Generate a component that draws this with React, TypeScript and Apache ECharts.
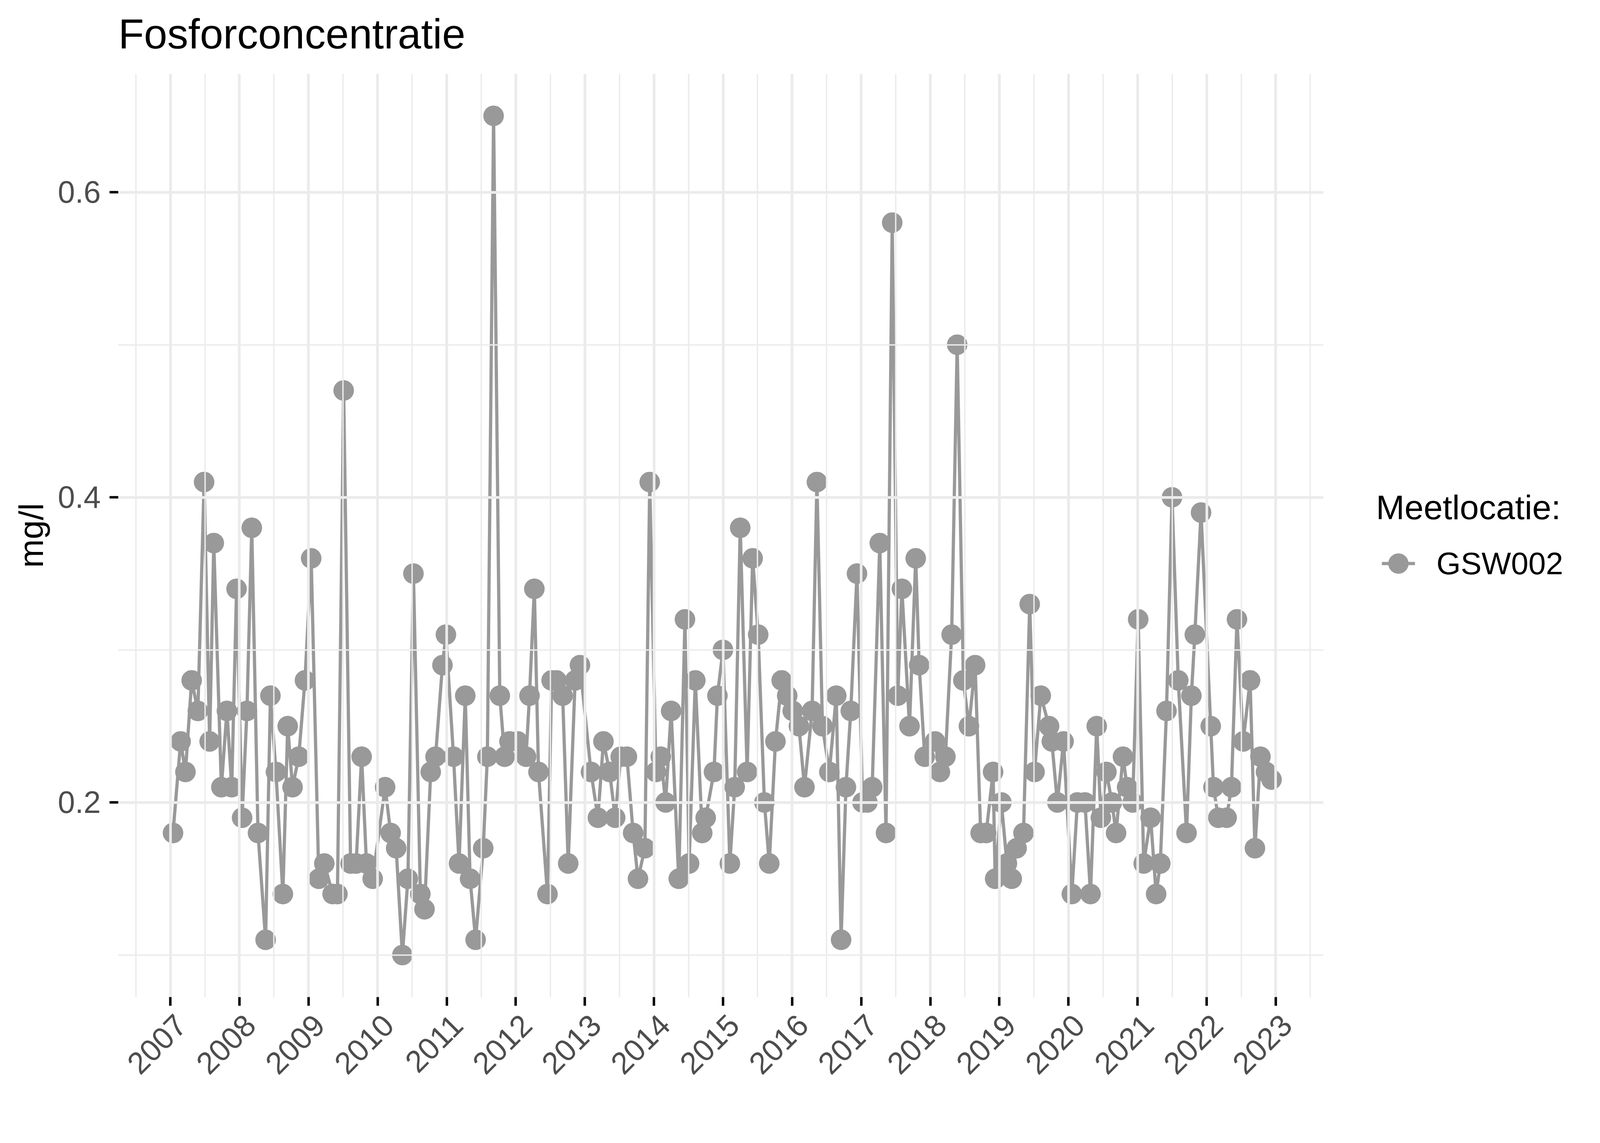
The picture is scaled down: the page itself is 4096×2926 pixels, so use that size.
import React, { useEffect, useRef } from "react";
import * as echarts from "echarts";

// ---- texts ----
const chartTitle = "Fosforconcentratie";
const yAxisTitle = "mg/l";
const legendTitle = "Meetlocatie:";
const seriesName = "GSW002";

// ---- data (sample moment as decimal year, value in mg/l) ----
const sampleYears = [
  2007.04, 2007.15, 2007.22, 2007.31, 2007.40, 2007.49, 2007.57, 2007.63, 2007.74, 2007.82, 2007.89, 2007.96,
  2008.04, 2008.11, 2008.18, 2008.27, 2008.38, 2008.45, 2008.53, 2008.63, 2008.70, 2008.77, 2008.86, 2008.95,
  2009.04, 2009.15, 2009.23, 2009.35, 2009.42, 2009.51, 2009.61, 2009.69, 2009.77, 2009.84, 2009.93,
  2010.11, 2010.19, 2010.27, 2010.36, 2010.44, 2010.52, 2010.62, 2010.68, 2010.77, 2010.84, 2010.94, 2010.99,
  2011.10, 2011.18, 2011.27, 2011.34, 2011.42, 2011.53, 2011.59, 2011.68, 2011.77, 2011.84, 2011.91,
  2012.03, 2012.15, 2012.20, 2012.27, 2012.33, 2012.46, 2012.52, 2012.59, 2012.68, 2012.76, 2012.86, 2012.93,
  2013.09, 2013.19, 2013.27, 2013.36, 2013.44, 2013.52, 2013.61, 2013.70, 2013.77, 2013.87, 2013.94,
  2014.03, 2014.10, 2014.17, 2014.25, 2014.36, 2014.45, 2014.51, 2014.60, 2014.70, 2014.75, 2014.87, 2014.92,
  2015.00, 2015.10, 2015.17, 2015.25, 2015.35, 2015.43, 2015.51, 2015.60, 2015.67, 2015.76, 2015.85, 2015.93,
  2016.01, 2016.10, 2016.18, 2016.29, 2016.36, 2016.44, 2016.54, 2016.64, 2016.71, 2016.78, 2016.85, 2016.94,
  2017.02, 2017.09, 2017.16, 2017.27, 2017.36, 2017.45, 2017.53, 2017.59, 2017.70, 2017.79, 2017.84, 2017.92,
  2018.07, 2018.14, 2018.22, 2018.31, 2018.39, 2018.48, 2018.56, 2018.65, 2018.73, 2018.81, 2018.91, 2018.94,
  2019.03, 2019.11, 2019.18, 2019.25, 2019.35, 2019.44, 2019.51, 2019.60, 2019.72, 2019.76, 2019.84, 2019.93,
  2020.05, 2020.13, 2020.24, 2020.32, 2020.41, 2020.47, 2020.55, 2020.63, 2020.69, 2020.79, 2020.85, 2020.93,
  2021.01, 2021.09, 2021.19, 2021.27, 2021.33, 2021.42, 2021.50, 2021.59, 2021.71, 2021.78, 2021.83, 2021.92,
  2022.06, 2022.10, 2022.17, 2022.29, 2022.36, 2022.44, 2022.53, 2022.63, 2022.70, 2022.78, 2022.86, 2022.94,
];

const phosphorus = [
  0.18, 0.24, 0.22, 0.28, 0.26, 0.41, 0.24, 0.37, 0.21, 0.26, 0.21, 0.34,
  0.19, 0.26, 0.38, 0.18, 0.11, 0.27, 0.22, 0.14, 0.25, 0.21, 0.23, 0.28,
  0.36, 0.15, 0.16, 0.14, 0.14, 0.47, 0.16, 0.16, 0.23, 0.16, 0.15,
  0.21, 0.18, 0.17, 0.10, 0.15, 0.35, 0.14, 0.13, 0.22, 0.23, 0.29, 0.31,
  0.23, 0.16, 0.27, 0.15, 0.11, 0.17, 0.23, 0.65, 0.27, 0.23, 0.24,
  0.24, 0.23, 0.27, 0.34, 0.22, 0.14, 0.28, 0.28, 0.27, 0.16, 0.28, 0.29,
  0.22, 0.19, 0.24, 0.22, 0.19, 0.23, 0.23, 0.18, 0.15, 0.17, 0.41,
  0.22, 0.23, 0.20, 0.26, 0.15, 0.32, 0.16, 0.28, 0.18, 0.19, 0.22, 0.27,
  0.30, 0.16, 0.21, 0.38, 0.22, 0.36, 0.31, 0.20, 0.16, 0.24, 0.28, 0.27,
  0.26, 0.25, 0.21, 0.26, 0.41, 0.25, 0.22, 0.27, 0.11, 0.21, 0.26, 0.35,
  0.20, 0.20, 0.21, 0.37, 0.18, 0.58, 0.27, 0.34, 0.25, 0.36, 0.29, 0.23,
  0.24, 0.22, 0.23, 0.31, 0.50, 0.28, 0.25, 0.29, 0.18, 0.18, 0.22, 0.15,
  0.20, 0.16, 0.15, 0.17, 0.18, 0.33, 0.22, 0.27, 0.25, 0.24, 0.20, 0.24,
  0.14, 0.20, 0.20, 0.14, 0.25, 0.19, 0.22, 0.20, 0.18, 0.23, 0.21, 0.20,
  0.32, 0.16, 0.19, 0.14, 0.16, 0.26, 0.40, 0.28, 0.18, 0.27, 0.31, 0.39,
  0.25, 0.21, 0.19, 0.19, 0.21, 0.32, 0.24, 0.28, 0.17, 0.23, 0.22, 0.215,
];

// ---- axes ----
const yearTicks = [2007, 2008, 2009, 2010, 2011, 2012, 2013, 2014, 2015, 2016, 2017, 2018, 2019, 2020, 2021, 2022, 2023];
const halfYearLines = [2006.5, 2007.5, 2008.5, 2009.5, 2010.5, 2011.5, 2012.5, 2013.5, 2014.5, 2015.5, 2016.5, 2017.5, 2018.5, 2019.5, 2020.5, 2021.5, 2022.5, 2023.5];
const valueTicks = [0.2, 0.4, 0.6];
const minorValueLines = [0.1, 0.3, 0.5];
const xMin = 2006.248;
const xMax = 2023.69;
const yMin = 0.0725;
const yMax = 0.6775;

const S = 0.975;
const FONT = "'Liberation Sans', Arial, sans-serif";
const GRID = "#EBEBEB";
const POINT = "#999999";

export default function App() {
  const ref = useRef<HTMLDivElement>(null);
  useEffect(() => {
    if (!ref.current) return;
    const chart = echarts.init(ref.current, undefined, { renderer: "svg" });
    const option = {
      animation: false,
      backgroundColor: "#FFFFFF",
      title: [
        {
          text: chartTitle,
          left: 317 * S - 6,
          top: 33,
          padding: 0,
          textStyle: { fontSize: 110 * S, fontWeight: "normal", color: "#000000", fontFamily: FONT },
        },
        {
          text: legendTitle,
          left: 3619 * S - 6,
          top: 1255,
          padding: 0,
          textStyle: { fontSize: 90 * S, fontWeight: "normal", color: "#000000", fontFamily: FONT },
        },
      ],
      legend: {
        data: [{ name: seriesName }],
        left: 3624 * S,
        top: 1472 * S - 32.5,
        padding: 0,
        itemWidth: 87 * S,
        itemHeight: 65,
        lineStyle: { width: 8.5 * S, color: POINT },
        textStyle: { fontSize: 82 * S, color: "#000000", fontFamily: FONT, padding: [0, 0, 0, 50] },
      },
      grid: {
        left: 310.6 * S,
        top: 194 * S,
        right: 4096 - 3474.6 * S,
        bottom: 2926 - 2617.7 * S,
        containLabel: false,
      },
      xAxis: {
        type: "value",
        min: xMin,
        max: xMax,
        axisLine: { show: false },
        splitLine: { show: false },
        axisTick: {
          show: true,
          customValues: yearTicks,
          length: 23 * S,
          lineStyle: { color: "#000000", width: 6.5 * S },
        },
        axisLabel: {
          customValues: yearTicks,
          rotate: 45,
          align: "right",
          verticalAlign: "top",
          margin: 31,
          fontSize: 81 * S,
          color: "#4D4D4D",
          fontFamily: FONT,
          formatter: (v: number) => String(Math.round(v)),
        },
      },
      yAxis: {
        type: "value",
        min: yMin,
        max: yMax,
        name: yAxisTitle,
        nameLocation: "middle",
        nameGap: 179,
        nameTextStyle: { fontSize: 90 * S, color: "#000000", fontFamily: FONT },
        axisLine: { show: false },
        splitLine: { show: false },
        axisTick: {
          show: true,
          customValues: valueTicks,
          length: 23 * S,
          lineStyle: { color: "#000000", width: 6.5 * S },
        },
        axisLabel: {
          customValues: valueTicks,
          margin: 45,
          fontSize: 81 * S,
          color: "#4D4D4D",
          fontFamily: FONT,
          formatter: (v: number) => v.toFixed(1),
        },
      },
      series: [
        {
          name: "minorGrid",
          type: "line",
          data: [],
          z: 0,
          silent: true,
          markLine: {
            silent: true,
            symbol: ["none", "none"],
            label: { show: false },
            lineStyle: { color: GRID, width: 3.6 * S, type: "solid" },
            data: [
              ...halfYearLines.map((v) => ({ xAxis: v })),
              ...minorValueLines.map((v) => ({ yAxis: v })),
            ],
          },
        },
        {
          name: "majorGrid",
          type: "line",
          data: [],
          z: 0,
          silent: true,
          markLine: {
            silent: true,
            symbol: ["none", "none"],
            label: { show: false },
            lineStyle: { color: GRID, width: 7 * S, type: "solid" },
            data: [
              ...yearTicks.map((v) => ({ xAxis: v })),
              ...valueTicks.map((v) => ({ yAxis: v })),
            ],
          },
        },
        {
          name: seriesName,
          type: "line",
          z: 3,
          data: sampleYears.map((x, i) => [x, phosphorus[i]]),
          symbol: "circle",
          symbolSize: 54 * S,
          showSymbol: true,
          itemStyle: { color: POINT },
          lineStyle: { color: POINT, width: 8.5 * S },
        },
      ],
    };
    chart.setOption(option as any);
    return () => chart.dispose();
  }, []);
  return (
    <div
      ref={ref}
      style={{ position: "fixed", left: 0, top: 0, width: 4096, height: 2926, background: "#FFFFFF" }}
    />
  );
}
